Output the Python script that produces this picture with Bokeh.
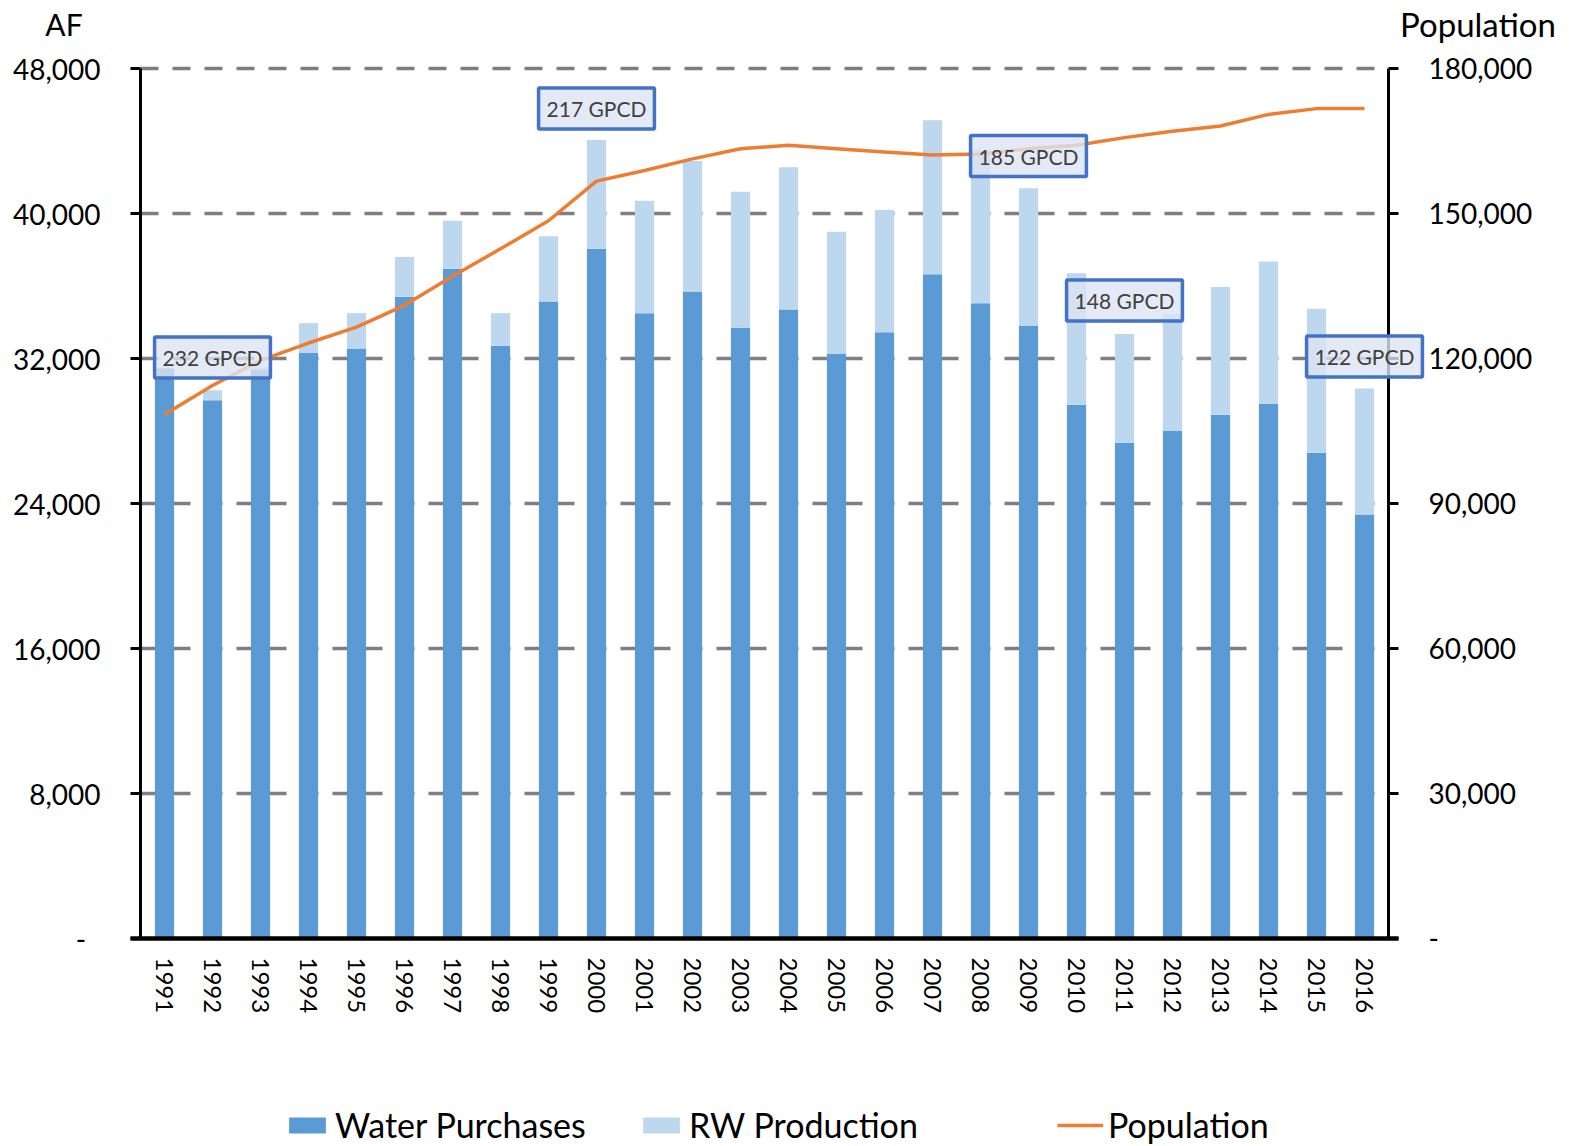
from bokeh.plotting import figure
from bokeh.models import (Range1d, LinearAxis, FixedTicker, Legend, LegendItem, Label,
                          ColumnDataSource)
from bokeh.embed import file_html
from bokeh.resources import INLINE

# ---------------- data ----------------
years = ["1991", "1992", "1993", "1994", "1995", "1996", "1997", "1998", "1999",
         "2000", "2001", "2002", "2003", "2004", "2005", "2006", "2007", "2008",
         "2009", "2010", "2011", "2012", "2013", "2014", "2015", "2016"]

water_purchases = [31450, 29700, 31400, 32300, 32550, 35400, 36950, 32700, 35150,
                   38050, 34500, 35700, 33700, 34700, 32250, 33450, 36650, 35050,
                   33800, 29450, 27350, 28000, 28900, 29500, 26800, 23400]

rw_production = [0, 550, 100, 1650, 1950, 2200, 2650, 1800, 3600,
                 6000, 6200, 7200, 7500, 7850, 6750, 6750, 8500, 8450,
                 7600, 7250, 6000, 6450, 7050, 7850, 7950, 6950]

population = [108400, 114400, 119600, 123200, 126500, 131000, 137000, 142700, 148500,
              156700, 158900, 161300, 163400, 164100, 163400, 162700, 162100, 162300,
              163400, 164100, 165700, 167000, 168100, 170500, 171700, 171700]

left_ticks = [0, 8000, 16000, 24000, 32000, 40000, 48000]
left_tick_labels = ["-\u00a0\u00a0", "8,000", "16,000", "24,000", "32,000", "40,000", "48,000"]
right_ticks = [0, 30000, 60000, 90000, 120000, 150000, 180000]
right_tick_labels = ["-", "30,000", "60,000", "90,000", "120,000", "150,000", "180,000"]

gpcd_labels = ["232 GPCD", "217 GPCD", "185 GPCD", "148 GPCD", "122 GPCD"]
gpcd_years = ["1992", "2000", "2009", "2011", "2016"]
gpcd_y = [32060, 45790, 43170, 35200, 32110]   # layout: vertical box centres (AF)

# ---------------- layout (pixels) ----------------
W, H = 1577, 1146
PX_L, PX_R = 140, 1388        # plot area left / right
PX_T, PX_B = 68, 938          # plot area top / bottom
Y_MAX, POP_MAX = left_ticks[-1], right_ticks[-1]
N = len(years)
ux = (PX_R - PX_L) / N                 # px per category
uy = (PX_B - PX_T) / Y_MAX             # px per AF
upop = (PX_B - PX_T) / POP_MAX         # px per person


def xd(px):
    return (px - PX_L) / ux


def yd(py):
    return (PX_B - py) / uy


FONT = "Lato"
C_WP = "#5B9BD5"
C_RW = "#BDD7EE"
C_POP = "#ED7D31"

xpos = [i + 0.5 for i in range(N)]
source = ColumnDataSource(dict(x=xpos, wp=water_purchases, rw=rw_production,
                               pop=population))

p = figure(x_range=Range1d(xd(0), xd(W)), y_range=Range1d(yd(H), yd(0)),
           width=W, height=H, output_backend="svg", toolbar_location=None,
           x_axis_location=None, y_axis_location=None,
           min_border_left=0, min_border_right=0, min_border_top=0,
           min_border_bottom=0)
p.extra_y_ranges = {"pop": Range1d(-(H - PX_B) / upop, POP_MAX + PX_T / upop)}
p.outline_line_color = None
p.background_fill_color = "white"
p.border_fill_color = "white"
for g in p.grid:
    g.visible = False
    g.grid_line_color = None

# dashed gridlines (guides)
gl = left_ticks[1:]
p.segment(x0=[0] * len(gl), x1=[N] * len(gl), y0=gl, y1=gl, line_color="#7F7F7F",
          line_width=3.5, line_dash="18 14", level="underlay")

bars = p.vbar_stack(["wp", "rw"], x="x", width=0.4, source=source,
                    fill_color=[C_WP, C_RW], line_alpha=0)
pop_line = p.line("x", "pop", y_range_name="pop", source=source,
                  line_color=C_POP, line_width=3.5)


def style_axis(ax, size):
    ax.axis_line_color = "black"
    ax.major_tick_line_color = "black"
    ax.minor_tick_line_color = None
    ax.major_label_text_font = FONT
    ax.major_label_text_font_size = size
    ax.major_label_text_color = "black"


# left axis
la = LinearAxis(fixed_location=0, bounds=(0, Y_MAX), ticker=FixedTicker(ticks=left_ticks))
la.major_label_overrides = {t: s for t, s in zip(left_ticks, left_tick_labels)}
style_axis(la, "28px")
la.axis_line_width = 3
la.major_tick_line_width = 3
la.major_tick_out = 10
la.major_tick_in = 0
la.major_label_standoff = 30
p.add_layout(la, "left")

# right axis
ra = LinearAxis(y_range_name="pop", fixed_location=N, bounds=(0, POP_MAX),
                ticker=FixedTicker(ticks=right_ticks))
ra.major_label_overrides = {t: s for t, s in zip(right_ticks, right_tick_labels)}
style_axis(ra, "28px")
ra.axis_line_width = 3
ra.major_tick_line_width = 3
ra.major_tick_out = 10
ra.major_tick_in = 0
ra.major_label_standoff = 30
p.add_layout(ra, "right")

# bottom axis
xa = LinearAxis(fixed_location=0, bounds=(xd(PX_L - 10), xd(PX_R + 10)),
                ticker=FixedTicker(ticks=xpos))
xa.major_label_overrides = {x: y for x, y in zip(xpos, years)}
style_axis(xa, "24px")
xa.axis_line_width = 4.5
xa.major_tick_line_color = None
xa.major_tick_out = 0
xa.major_tick_in = 0
xa.major_label_orientation = "vertical"
xa.major_label_standoff = 19
p.add_layout(xa, "below")

# axis titles
p.add_layout(Label(x=xd(63.5), y=yd(23), text="AF", text_font=FONT,
                   text_font_size="30px", text_align="center",
                   text_baseline="alphabetic", text_color="black"))
p.add_layout(Label(x=xd(1477.5), y=yd(23), text="Population", text_font=FONT,
                   text_font_size="33px", text_align="center",
                   text_baseline="alphabetic", text_color="black"))

# GPCD boxes
for lab, yr, yv in zip(gpcd_labels, gpcd_years, gpcd_y):
    p.add_layout(Label(x=xpos[years.index(yr)], y=yv, text=lab, text_font=FONT,
                       text_font_size="21px", text_color="#404040",
                       text_align="center", text_baseline="middle",
                       background_fill_color="#DCE4F2", background_fill_alpha=0.8,
                       border_line_color="#4472C4", border_line_width=3.5,
                       padding=8))


# legends (location: left / bottom edge in screen px from frame's bottom-left)
def make_legend(label, renderer, left_px, bottom_px):
    lg = Legend(items=[LegendItem(label=label, renderers=[renderer])],
                location=(left_px, H - bottom_px),
                orientation="horizontal", padding=0, margin=0, spacing=0,
                glyph_width=46, glyph_height=20, label_standoff=5,
                label_text_font=FONT, label_text_font_size="34px",
                label_text_color="black", border_line_color=None,
                background_fill_alpha=0)
    p.add_layout(lg, "center")


make_legend("Water Purchases", bars[0], 284, 1145)
make_legend("RW Production", bars[1], 638, 1145)
make_legend("Population", pop_line, 1057, 1145)

open("out.html", "w").write(file_html(p, INLINE))
